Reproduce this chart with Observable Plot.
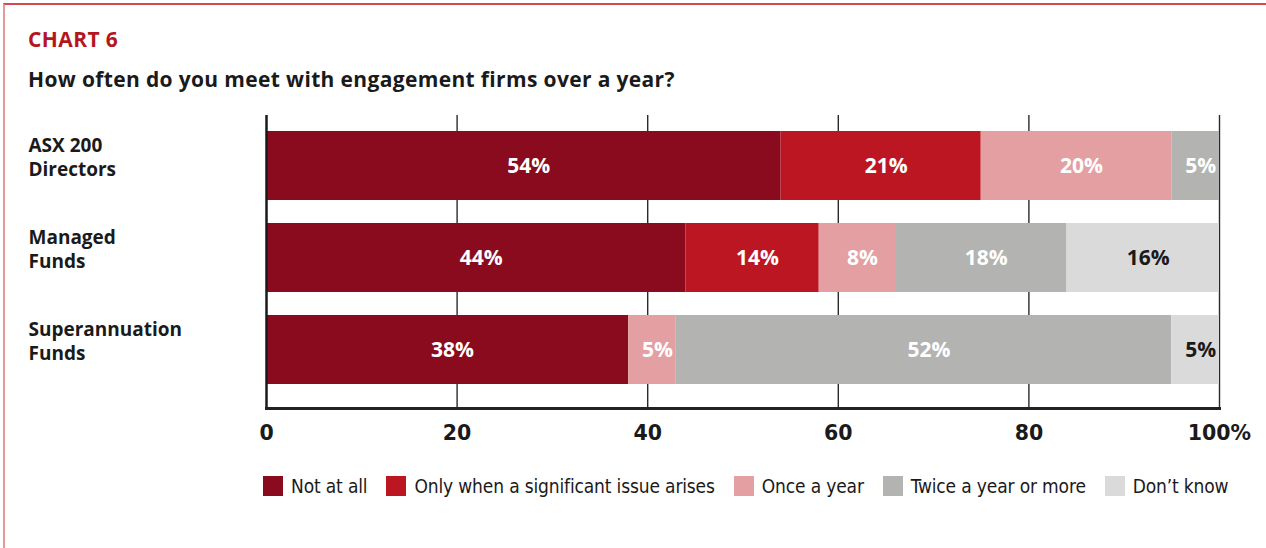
<!DOCTYPE html>
<html>
<head>
<meta charset="utf-8">
<script src="https://cdn.jsdelivr.net/npm/d3@7"></script>
<script src="https://cdn.jsdelivr.net/npm/@observablehq/plot@0.6"></script>
<style>
  html, body { margin: 0; padding: 0; background: #fff; }
  #page { position: relative; width: 1266px; height: 548px; overflow: hidden; background: #fff; }
  #border { position: absolute; left: 3px; top: 3px; right: -10px; bottom: -10px;
            border-top: 2px solid #d8474b; border-left: 2px solid #e3999b; }
  #kicker { position: absolute; left: 28px; top: 25px; line-height: 24px; font: bold 21px "Open Sans", sans-serif; letter-spacing: 0.4px; color: #b5161e; }
  #title { position: absolute; left: 28px; top: 65px; line-height: 24px; font: bold 21px "Open Sans", sans-serif; letter-spacing: 0.35px; color: #1a1a1a; white-space: nowrap; }
  #chart { position: absolute; left: 0; top: 100px; }
  #legend { position: absolute; left: 263px; top: 474px; display: flex; align-items: center; white-space: nowrap;
            font-family: "DejaVu Sans", sans-serif; font-stretch: condensed; font-size: 19px; letter-spacing: -0.15px; color: #1a1a1a; line-height: 24px; }
  .item { display: flex; align-items: center; margin-right: 19px; }
  .sw { width: 20px; height: 20px; margin-right: 8px; flex: none; }
</style>
</head>
<body>
<div id="page">
  <div id="border"></div>
  <div id="kicker">CHART 6</div>
  <div id="title">How often do you meet with engagement firms over a year?</div>
  <div id="chart"></div>
  <div id="legend"></div>
</div>
<script>
const groups = ["ASX 200\nDirectors", "Managed\nFunds", "Superannuation\nFunds"];
const categories = ["Not at all", "Only when a significant issue arises", "Once a year", "Twice a year or more", "Don’t know"];
const colors = ["#8a0b1d", "#bd1623", "#e39fa2", "#b3b3b1", "#dadada"];
const asxDirectors = [54, 21, 20, 5, 0];
const managedFunds = [44, 14, 8, 18, 16];
const superFunds = [38, 0, 5, 52, 5];
const xTicks = [0, 20, 40, 60, 80, 100];
const xTickLabels = ["0", "20", "40", "60", "80", "100%"];

const series = [asxDirectors, managedFunds, superFunds];
const data = [];
groups.forEach((g, i) => categories.forEach((c, j) => {
  data.push({group: g, category: c, value: series[i][j]});
}));
const labelled = data.filter(d => d.value > 0);

const chart = Plot.plot({
  width: 1266,
  height: 360,
  marginLeft: 266,
  marginRight: 47,
  marginTop: 15,
  marginBottom: 52,
  style: {fontFamily: "'Open Sans', sans-serif", background: "transparent"},
  x: {domain: [0, 100], axis: null},
  y: {type: "band", domain: groups, paddingInner: 0.25, paddingOuter: 0.217, align: 0.4, axis: null},
  color: {domain: categories, range: colors},
  marks: [
    Plot.ruleX(xTicks.slice(1), {stroke: "#2a2a2a", strokeWidth: 1.4}),
    Plot.barX(data, Plot.stackX({x: "value", y: "group", fill: "category", order: categories})),
    Plot.ruleX([0], {stroke: "#1a1a1a", strokeWidth: 2.5}),
    Plot.frame({anchor: "bottom", stroke: "#222", strokeWidth: 3}),
    Plot.text(labelled, Plot.stackX({
      x: "value", y: "group", z: "category", order: categories,
      text: d => d.value + "%",
      fill: d => d.category === categories[4] ? "#1a1a1a" : "#ffffff",
      fontSize: 21, fontWeight: "bold", dx: 5
    })),
    Plot.text(groups, {
      y: d => d, text: d => d, frameAnchor: "left", textAnchor: "start",
      dx: -238, dy: -10, fontSize: 19, fontWeight: "bold", lineHeight: 1.26, fill: "#1a1a1a"
    }),
    Plot.text(xTicks, {
      x: d => d, text: (d, i) => xTickLabels[i], frameAnchor: "bottom", dy: 31,
      fontSize: 20.5, fontWeight: "bold", fill: "#1a1a1a",
      fontFamily: "'DejaVu Sans', sans-serif", fontStretch: "condensed"
    })
  ]
});
document.getElementById("chart").appendChild(chart);

const legend = document.getElementById("legend");
categories.forEach((c, i) => {
  const item = document.createElement("div");
  item.className = "item";
  const sw = document.createElement("div");
  sw.className = "sw";
  sw.style.background = colors[i];
  const t = document.createElement("span");
  t.textContent = c;
  item.appendChild(sw);
  item.appendChild(t);
  legend.appendChild(item);
});
</script>
</body>
</html>
